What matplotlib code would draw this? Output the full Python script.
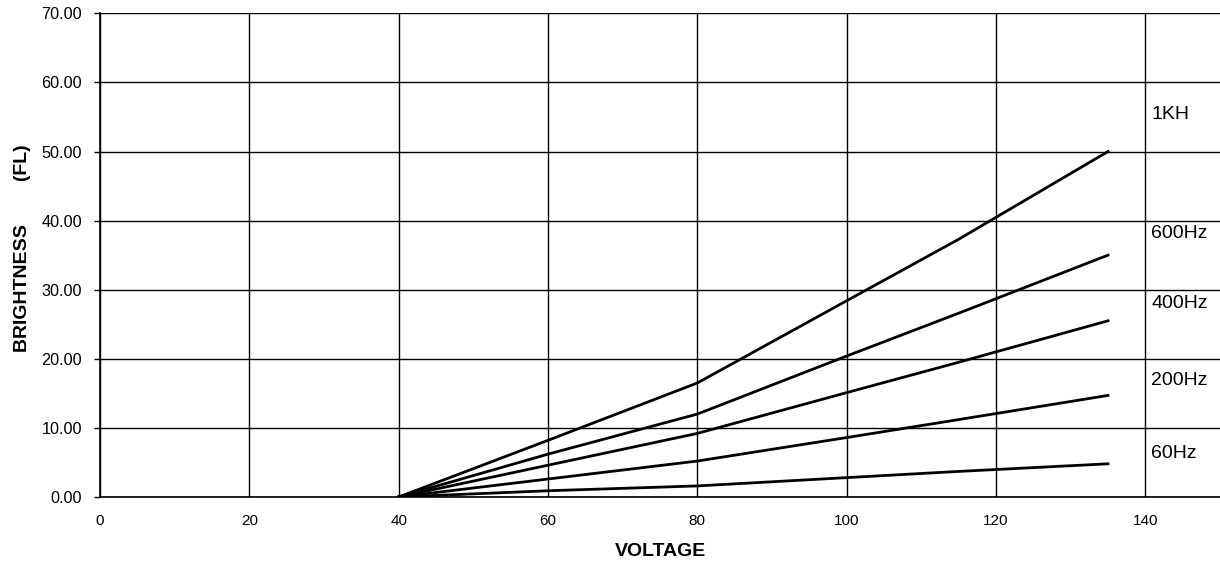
import matplotlib.pyplot as plt
from matplotlib.ticker import FormatStrFormatter

plt.rcParams['font.family'] = ['Liberation Sans', 'DejaVu Sans']

# brightness vs voltage for each drive frequency
voltage = [40, 60, 80, 100, 115, 135]
labels = ["1KH", "600Hz", "400Hz", "200Hz", "60Hz"]
b_1k = [0, 8.2, 16.5, 28.4, 37.3, 50.0]
b_600 = [0, 6.2, 12.0, 20.4, 26.6, 35.0]
b_400 = [0, 4.6, 9.2, 15.1, 19.5, 25.5]
b_200 = [0, 2.6, 5.2, 8.6, 11.2, 14.7]
b_60 = [0, 0.9, 1.6, 2.8, 3.7, 4.8]
label_y = [55.3, 38.2, 28.0, 16.8, 6.3]

fig = plt.figure(figsize=(12.2, 5.65), dpi=100)
ax = fig.add_axes([0.082, 0.1204, 0.918, 0.856])

for series in [b_1k, b_600, b_400, b_200, b_60]:
    ax.plot(voltage, series, color="black", lw=2.0, zorder=3)

for name, y in zip(labels, label_y):
    ax.text(140.8, y, name, fontsize=14, va="center", ha="left")

ax.set_xlim(0, 150)
ax.set_ylim(0, 70)
ax.set_xticks(range(0, 141, 20))
ax.set_yticks(range(0, 71, 10))
ax.yaxis.set_major_formatter(FormatStrFormatter("%.2f"))
ax.grid(True, color="black", lw=1.0)
ax.tick_params(axis="x", length=0, pad=12, labelsize=11)
ax.tick_params(axis="y", length=4, width=1, pad=9, labelsize=11.7)
for s in ["top", "right"]:
    ax.spines[s].set_visible(False)
ax.spines["left"].set_linewidth(1.2)
ax.spines["bottom"].set_linewidth(1.2)

ax.set_xlabel("VOLTAGE", fontweight="bold", fontsize=14)
ax.xaxis.set_label_coords(0.5, -0.0956)
ax.set_ylabel("BRIGHTNESS        (FL)", fontweight="bold", fontsize=14)
ax.yaxis.set_label_coords(-0.0616, 0.5145)

fig.savefig("out.png", dpi=100)
